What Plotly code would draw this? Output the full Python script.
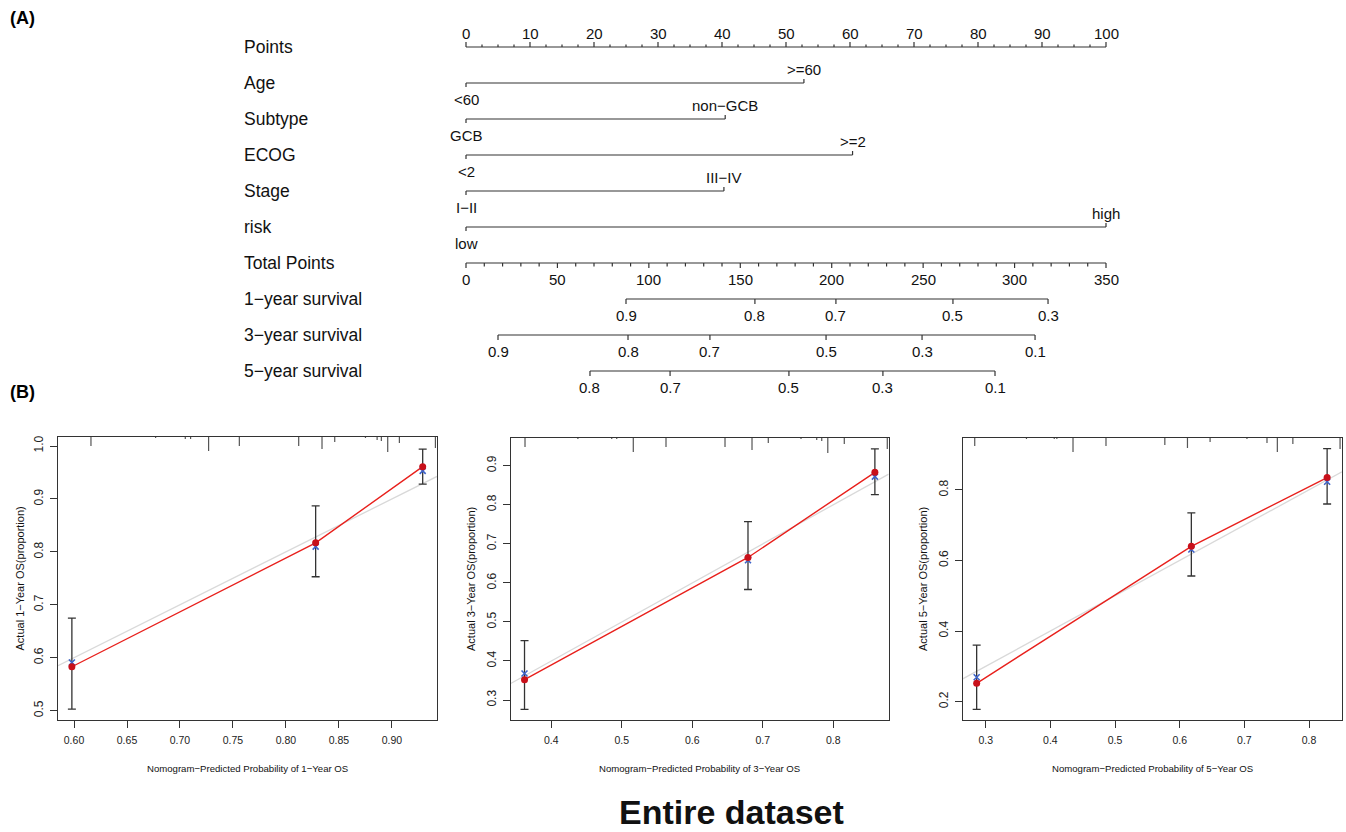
import plotly.graph_objects as go

W, H = 1346, 832
FONT = "Liberation Sans, Arial, Helvetica, sans-serif"

# ---------------- Nomogram data ----------------
row_names = ["Points", "Age", "Subtype", "ECOG", "Stage", "risk",
             "Total Points", "1\u2212year survival", "3\u2212year survival", "5\u2212year survival"]
points_ticks = list(range(0, 101, 10))

age_levels = ["<60", ">=60"]
age_points = [0, 52.8]
subtype_levels = ["GCB", "non\u2212GCB"]
subtype_points = [0, 40.5]
ecog_levels = ["<2", ">=2"]
ecog_points = [0, 60.4]
stage_levels = ["I\u2212II", "III\u2212IV"]
stage_points = [0, 40.3]
risk_levels = ["low", "high"]
risk_points = [0, 100]

total_points_max = 350
total_points_ticks = list(range(0, 351, 50))

surv1_labels = ["0.9", "0.8", "0.7", "0.5", "0.3"]
surv1_total = [87.5, 158.0, 202.3, 266.3, 318.3]
surv3_labels = ["0.9", "0.8", "0.7", "0.5", "0.3", "0.1"]
surv3_total = [17.5, 88.6, 133.4, 196.9, 249.4, 311.2]
surv5_labels = ["0.8", "0.7", "0.5", "0.3", "0.1"]
surv5_total = [67.8, 111.6, 176.6, 228.0, 289.3]

# ---------------- Calibration data ----------------
cal1_pred = [0.598, 0.828, 0.929]
cal1_obs = [0.583, 0.817, 0.961]
cal1_lo = [0.503, 0.753, 0.928]
cal1_hi = [0.675, 0.887, 0.994]
cal1_corr = [0.591, 0.810, 0.953]
rug1_x = [0.616, 0.677, 0.705, 0.710, 0.727, 0.756, 0.812, 0.834, 0.846, 0.875, 0.886, 0.890, 0.896, 0.907, 0.941]
rug1_n = [9, 1, 2, 2, 14, 9, 9, 12, 5, 1, 3, 4, 15, 6, 11]

cal3_pred = [0.362, 0.679, 0.859]
cal3_obs = [0.352, 0.665, 0.883]
cal3_lo = [0.276, 0.583, 0.826]
cal3_hi = [0.452, 0.757, 0.943]
cal3_corr = [0.368, 0.658, 0.872]
rug3_x = [0.3627, 0.4377, 0.4857, 0.4928, 0.5163, 0.5627, 0.6464, 0.6847, 0.7078, 0.7542, 0.7765, 0.7836, 0.7922, 0.8156, 0.8766]
rug3_n = [9, 1, 1, 1, 14, 9, 9, 12, 5, 1, 2, 3, 15, 6, 11]

cal5_pred = [0.286, 0.618, 0.828]
cal5_obs = [0.252, 0.640, 0.835]
cal5_lo = [0.178, 0.556, 0.760]
cal5_hi = [0.360, 0.735, 0.917]
cal5_corr = [0.269, 0.631, 0.823]
rug5_x = [0.283, 0.363, 0.406, 0.410, 0.435, 0.486, 0.577, 0.612, 0.647, 0.704, 0.735, 0.751, 0.775, 0.848]
rug5_n = [8, 1, 1, 1, 14, 8, 7, 10, 4, 1, 5, 14, 6, 11]

years = [1, 3, 5]

fig = go.Figure()

# ---------------- Nomogram ----------------
ROW_PX = 36.0
row_top_px = 47.0
nomo_bottom_px = 400.0
LINE = "#333333"


def px(v):
    return v / ROW_PX


segx, segy = [], []


def seg(x0, y0, x1, y1):
    segx.extend([x0, x1, None])
    segy.extend([y0, y1, None])


annos = []


def txt(x, y, s, size=15, xanchor="center", xref="x", yref="y", **kw):
    annos.append(dict(x=x, y=y, text=s, xref=xref, yref=yref, showarrow=False,
                      xanchor=xanchor, yanchor="middle",
                      font=dict(family=FONT, size=size, color="#111"), **kw))


# row labels
for i, name in enumerate(row_names):
    txt(-35, i, name, size=17.5, xanchor="left")

# Points axis (row 0)
seg(0, 0, 100, 0)
k = 0.0
while k <= 100.001:
    L = 5 if abs(k % 10) < 1e-6 else 2.5
    seg(k, 0, k, -px(L))
    k += 2.5
for t in points_ticks:
    txt(t, -px(14), str(t))

# categorical rows
cat_rows = [(age_levels, age_points), (subtype_levels, subtype_points),
            (ecog_levels, ecog_points), (stage_levels, stage_points),
            (risk_levels, risk_points)]
for r, (levels, pts) in enumerate(cat_rows, start=1):
    seg(pts[0], r, pts[1], r)
    seg(pts[0], r, pts[0], r + px(4))
    seg(pts[1], r, pts[1], r - px(4))
    txt(pts[0], r + px(16), levels[0])
    txt(pts[1], r - px(14), levels[1])

# Total points (row 6)
scale = 100.0 / total_points_max
seg(0, 6, total_points_max * scale, 6)
for t in range(0, total_points_max + 1, 10):
    L = 5 if t % 50 == 0 else 3.5
    seg(t * scale, 6, t * scale, 6 + px(L))
for t in total_points_ticks:
    txt(t * scale, 6 + px(16), str(t))

# survival rows
for r, (labs, tot) in zip([7, 8, 9], [(surv1_labels, surv1_total),
                                     (surv3_labels, surv3_total),
                                     (surv5_labels, surv5_total)]):
    seg(tot[0] * scale, r, tot[-1] * scale, r)
    for lab, t in zip(labs, tot):
        seg(t * scale, r, t * scale, r + px(5))
        txt(t * scale, r + px(16), lab)

fig.add_trace(go.Scatter(x=segx, y=segy, mode="lines", line=dict(color=LINE, width=1.2),
                         hoverinfo="skip", showlegend=False, xaxis="x", yaxis="y"))

# nomogram axis geometry (points units -> pixels)
x0_px, x100_px = 466.0, 1106.0
ppu = (x100_px - x0_px) / 100.0
nomo_xrange = [-x0_px / ppu, (W - x0_px) / ppu]
nomo_yrange = [(nomo_bottom_px - row_top_px) / ROW_PX, -row_top_px / ROW_PX]

layout_axes = dict(
    xaxis=dict(domain=[0, 1], range=nomo_xrange, visible=False, anchor="y"),
    yaxis=dict(domain=[1 - nomo_bottom_px / H, 1], range=nomo_yrange, visible=False, anchor="x"),
)

# ---------------- Calibration panels ----------------
panels = [
    dict(box=(58, 437, 437, 720), xr=[0.5849, 0.9425], yr=[0.4824, 1.017],
         xt=[0.60, 0.65, 0.70, 0.75, 0.80, 0.85, 0.90], xfmt="{:.2f}",
         yt=[0.5, 0.6, 0.7, 0.8, 0.9, 1.0], yfmt="{:.1f}",
         pred=cal1_pred, obs=cal1_obs, lo=cal1_lo, hi=cal1_hi, corr=cal1_corr,
         rx=rug1_x, rn=rug1_n, ytx=19),
    dict(box=(510.7, 438, 888.7, 720), xr=[0.3424, 0.8786], yr=[0.2488, 0.971],
         xt=[0.4, 0.5, 0.6, 0.7, 0.8], xfmt="{:.1f}",
         yt=[0.3, 0.4, 0.5, 0.6, 0.7, 0.8, 0.9], yfmt="{:.1f}",
         pred=cal3_pred, obs=cal3_obs, lo=cal3_lo, hi=cal3_hi, corr=cal3_corr,
         rx=rug3_x, rn=rug3_n, ytx=471),
    dict(box=(962.7, 438, 1342, 720), xr=[0.2644, 0.851], yr=[0.148, 0.947],
         xt=[0.3, 0.4, 0.5, 0.6, 0.7, 0.8], xfmt="{:.1f}",
         yt=[0.2, 0.4, 0.6, 0.8], yfmt="{:.1f}",
         pred=cal5_pred, obs=cal5_obs, lo=cal5_lo, hi=cal5_hi, corr=cal5_corr,
         rx=rug5_x, rn=rug5_n, ytx=923),
]

for idx, (p, yr_) in enumerate(zip(panels, years), start=2):
    xa, ya = f"x{idx}", f"y{idx}"
    l, t, r, b = p["box"]
    layout_axes[f"xaxis{idx}"] = dict(
        domain=[l / W, r / W], range=p["xr"], anchor=ya,
        tickvals=p["xt"], ticktext=[p["xfmt"].format(v) for v in p["xt"]],
        ticks="outside", ticklen=7, tickcolor=LINE, tickwidth=1,
        showline=True, mirror=True, linecolor=LINE, linewidth=1.3,
        showgrid=False, zeroline=False, ticklabelstandoff=3,
        tickfont=dict(family=FONT, size=10.5, color="#222"))
    layout_axes[f"yaxis{idx}"] = dict(
        domain=[1 - b / H, 1 - t / H], range=p["yr"], anchor=xa,
        tickvals=p["yt"], ticktext=[p["yfmt"].format(v) for v in p["yt"]],
        ticks="outside", ticklen=7, tickcolor=LINE, tickwidth=1,
        showline=True, mirror=True, linecolor=LINE, linewidth=1.3,
        showgrid=False, zeroline=False, tickangle=-90, ticklabelstandoff=2,
        tickfont=dict(family=FONT, size=12, color="#222"))

    # ideal diagonal
    lo_d = max(p["xr"][0], p["yr"][0])
    hi_d = min(p["xr"][1], p["yr"][1])
    fig.add_trace(go.Scatter(x=[lo_d, hi_d], y=[lo_d, hi_d], mode="lines",
                             line=dict(color="#d9d9d9", width=1.3), hoverinfo="skip",
                             showlegend=False, xaxis=xa, yaxis=ya))
    # rug at top
    y_ppu = ((b - t)) / (p["yr"][1] - p["yr"][0])
    rx, ry = [], []
    for xv, n in zip(p["rx"], p["rn"]):
        rx.extend([xv, xv, None])
        ry.extend([p["yr"][1], p["yr"][1] - n / y_ppu, None])
    fig.add_trace(go.Scatter(x=rx, y=ry, mode="lines", line=dict(color="#555", width=1.2),
                             hoverinfo="skip", showlegend=False, xaxis=xa, yaxis=ya))
    # red observed line
    fig.add_trace(go.Scatter(x=p["pred"], y=p["obs"], mode="lines",
                             line=dict(color="#e8201c", width=1.4), hoverinfo="skip",
                             showlegend=False, xaxis=xa, yaxis=ya))
    # error bars
    fig.add_trace(go.Scatter(
        x=p["pred"], y=p["obs"], mode="markers",
        marker=dict(size=1, color="rgba(0,0,0,0)"),
        error_y=dict(type="data", symmetric=False,
                     array=[h - o for h, o in zip(p["hi"], p["obs"])],
                     arrayminus=[o - lo for o, lo in zip(p["obs"], p["lo"])],
                     color="#333", thickness=1.3, width=4),
        hoverinfo="skip", showlegend=False, xaxis=xa, yaxis=ya))
    # blue x (bias-corrected)
    fig.add_trace(go.Scatter(x=p["pred"], y=p["corr"], mode="markers",
                             marker=dict(symbol="x-thin", size=6, color="#3d63c9",
                                         line=dict(color="#3d63c9", width=1.6)),
                             hoverinfo="skip", showlegend=False, xaxis=xa, yaxis=ya))
    # red dots
    fig.add_trace(go.Scatter(x=p["pred"], y=p["obs"], mode="markers",
                             marker=dict(symbol="circle", size=7, color="#c8101a"),
                             hoverinfo="skip", showlegend=False, xaxis=xa, yaxis=ya))

    # titles
    txt((l + r) / 2 / W, 1 - 768 / H,
        f"Nomogram\u2212Predicted Probability of {yr_}\u2212Year OS",
        size=9.6, xref="paper", yref="paper")
    txt(p["ytx"] / W, 1 - (t + b) / 2 / H,
        f"Actual {yr_}\u2212Year OS(proportion)",
        size=11, xref="paper", yref="paper", textangle=-90)

# panel labels and caption
annos.append(dict(x=8 / W, y=1 - 18 / H, xref="paper", yref="paper", text="<b>(A)</b>",
                  showarrow=False, xanchor="left", yanchor="middle",
                  font=dict(family=FONT, size=18, color="#000")))
annos.append(dict(x=8 / W, y=1 - 392 / H, xref="paper", yref="paper", text="<b>(B)</b>",
                  showarrow=False, xanchor="left", yanchor="middle",
                  font=dict(family=FONT, size=18, color="#000")))
annos.append(dict(x=732 / W, y=1 - 812 / H, xref="paper", yref="paper",
                  text="<b>Entire dataset</b>", showarrow=False,
                  xanchor="center", yanchor="middle",
                  font=dict(family=FONT, size=34, color="#111")))

fig.update_layout(
    width=W, height=H, margin=dict(l=0, r=0, t=0, b=0),
    paper_bgcolor="white", plot_bgcolor="rgba(0,0,0,0)",
    showlegend=False, annotations=annos, **layout_axes)

fig.write_html("out.html", config={"displayModeBar": False},
               post_script="document.body.style.margin='0px';document.body.style.overflow='hidden';")
